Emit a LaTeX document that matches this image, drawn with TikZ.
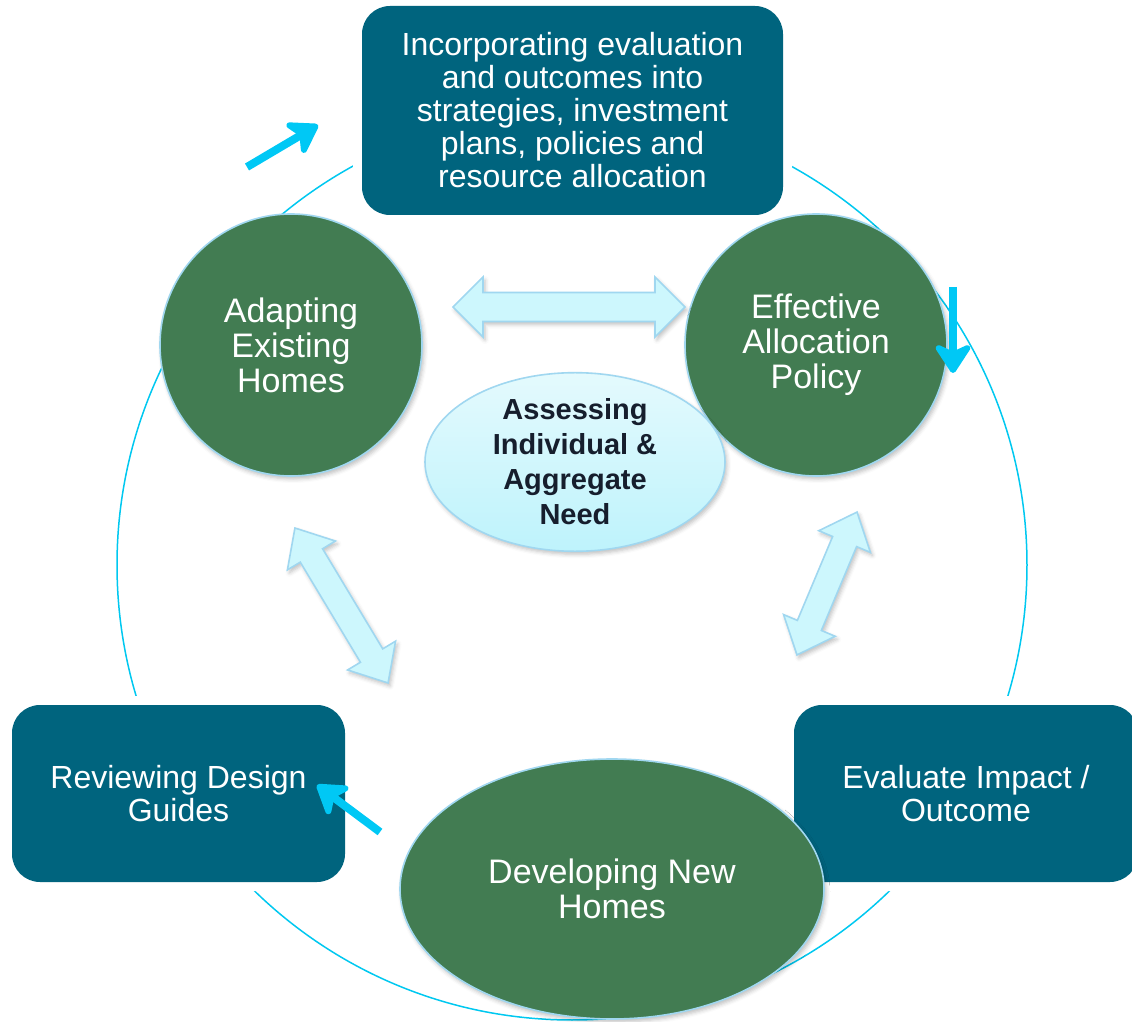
\documentclass[tikz,border=0pt]{standalone}
\usepackage{fontspec}
\setmainfont{Liberation Sans}
\usetikzlibrary{arrows.meta,shapes.geometric,shadows.blur}

\definecolor{boxteal}{RGB}{0,100,126}
\definecolor{leafgreen}{RGB}{66,124,82}
\definecolor{rimblue}{RGB}{160,215,240}
\definecolor{ringcyan}{RGB}{0,200,240}
\definecolor{pointcyan}{RGB}{0,200,245}
\definecolor{paleface}{RGB}{205,247,253}
\definecolor{paletop}{RGB}{228,250,253}
\definecolor{palebottom}{RGB}{190,243,252}
\definecolor{inkdark}{RGB}{22,30,45}

% double-headed block arrow: x, y, angle, half length, shaft half width, head half width, head length
\newcommand\twinarrow[7]{%
  \begin{scope}[shift={(#1,#2)}, rotate=#3]
    \draw[twinstyle]
      (-#4,0) -- ({-#4+#7},-#6) -- ({-#4+#7},-#5) -- ({#4-#7},-#5) -- ({#4-#7},-#6)
      -- (#4,0) -- ({#4-#7},#6) -- ({#4-#7},#5) -- ({-#4+#7},#5) -- ({-#4+#7},#6) -- cycle;
  \end{scope}}

\begin{document}
\begin{tikzpicture}[x=0.5pt,y=-0.5pt,
  softshadow/.style={blur shadow={shadow xshift=1pt, shadow yshift=-1.5pt,
      shadow blur radius=2pt, shadow opacity=25}},
  stagebox/.style={rectangle, rounded corners=14pt, fill=boxteal, text=white,
      align=center, inner sep=0pt, font=\fontsize{16}{16.5}\selectfont,
      preaction={draw=white, line width=9pt}},
  stagecircle/.style={circle, fill=leafgreen, draw=rimblue, line width=0.8pt,
      text=white, align=center, minimum size=131pt, inner sep=0pt,
      font=\fontsize{17}{17.5}\selectfont, softshadow},
  hub/.style={ellipse, draw=rimblue, line width=0.8pt, top color=paletop,
      bottom color=palebottom, text=inkdark, align=center, inner sep=0pt,
      minimum width=150pt, minimum height=89pt,
      font=\fontsize{14.5}{17.5}\selectfont\bfseries, softshadow},
  twinstyle/.style={draw=rimblue, line width=0.8pt, fill=paleface, line join=miter,
      softshadow},
  pointer/.style={draw=pointcyan, line width=4pt,
      -{Stealth[length=17pt, width=22pt, inset=5pt, round]}},
]
\useasboundingbox (0,0) rectangle (1132,1022);

% the cycle ring behind everything
\node[circle, draw=ringcyan, line width=0.75pt, minimum size=455pt, inner sep=0pt]
  (ring) at (572,565) {};

% teal stage boxes
\node[stagebox, minimum width=210.5pt, minimum height=104.5pt] (plan) at (572.5,110.5)
  {Incorporating evaluation\\and outcomes into\\strategies, investment\\plans, policies and\\resource allocation};
\node[stagebox, minimum width=166.5pt, minimum height=88.5pt] (review) at (178.5,793.5)
  {Reviewing Design\\Guides};
\node[stagebox, minimum width=172pt, minimum height=88.5pt] (evaluate) at (966,793.5)
  {Evaluate Impact /\\Outcome};

% green stage circles
\node[stagecircle] (adapt) at (291,345) {Adapting\\Existing\\Homes};
\node[stagecircle] (alloc) at (816,345) {Effective\\Allocation\\Policy};
\node[ellipse, fill=leafgreen, draw=rimblue, line width=0.8pt, text=white, align=center,
      minimum width=212pt, minimum height=130pt, inner sep=0pt,
      font=\fontsize{17}{17.5}\selectfont, softshadow]
  (develop) at (612,889) {Developing New\\Homes};

% central need assessment
\node[hub] (need) at (575,462) {Assessing\\Individual \&\\Aggregate\\Need};

% two-way block arrows between the stages
\twinarrow{569}{307}{0}{116}{14.5}{30}{30}
\twinarrow{341.5}{605.5}{-59}{90.4}{13}{28}{32}
\twinarrow{827}{583.5}{67.2}{77.5}{13}{28}{32}

% direction cues on the ring
\coordinate (cueAs) at (247,167);  \coordinate (cueAe) at (318,125);
\coordinate (cueBs) at (953,287);  \coordinate (cueBe) at (953,373);
\coordinate (cueCs) at (380,832);  \coordinate (cueCe) at (317,785);
\draw[pointer] (cueAs) -- (cueAe);
\draw[pointer] (cueBs) -- (cueBe);
\draw[pointer] (cueCs) -- (cueCe);
\end{tikzpicture}
\end{document}
